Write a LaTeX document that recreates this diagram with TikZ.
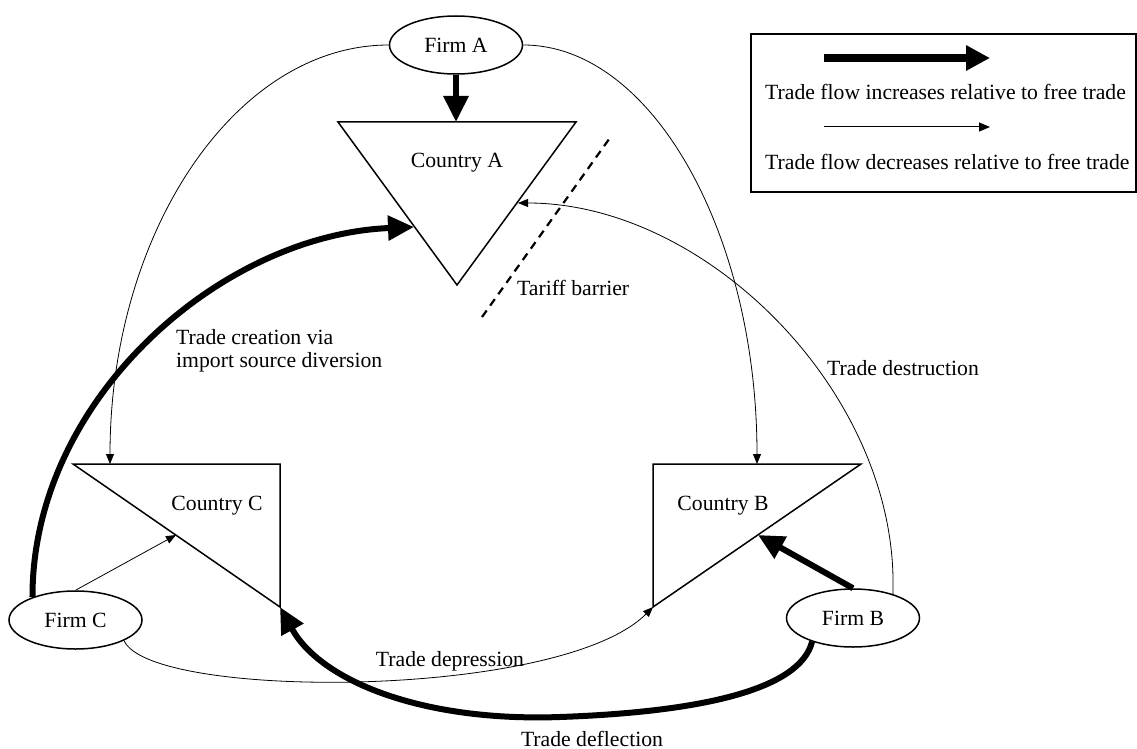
\documentclass[tikz,border=0pt]{standalone}
\usepackage{fontspec}
\setmainfont{Liberation Serif}
\usetikzlibrary{arrows.meta,shapes.geometric}
\begin{document}
\begin{tikzpicture}[x=1pt,y=-1pt,
  every node/.style={font=\fontsize{21.7}{23}\selectfont, inner sep=0pt},
  firm/.style={ellipse, draw, line width=1.5pt, minimum width=133pt, minimum height=58pt, fill=white},
  country/.style={draw, line width=1.5pt, line join=miter},
  thin flow/.style={line width=0.8pt, -{Triangle[length=10pt,width=8pt]}},
  thick flow/.style={line width=6pt, -{Triangle[length=26pt,width=24pt]}},
  barrier/.style={line width=2.2pt, dash pattern=on 8pt off 6pt}
]
\useasboundingbox (0,0) rectangle (1137,749);

% countries (triangles)
\draw[country] (338,122) -- (576,122) -- (457,285) -- cycle;
\draw[country] (73,464) -- (280,464) -- (280,607) -- cycle;
\draw[country] (653,464) -- (861,464) -- (653,607) -- cycle;
\node (cA) at (457,163) {Country A};
\node (cC) at (217,506) {Country C};
\node (cB) at (723,506) {Country B};

% connector end points on the triangles
\coordinate (cAtop) at (456,122);
\coordinate (cAleft) at (414,227);
\coordinate (cAright) at (518,203);
\coordinate (cCtop) at (110,464);
\coordinate (cChyp) at (176,535);
\coordinate (cCbr) at (280,607);
\coordinate (cBtop) at (757,464);
\coordinate (cBhyp) at (758,535);
\coordinate (cBbl) at (653,607);

% firms
\node[firm] (firmA) at (456,45) {Firm A};
\node[firm] (firmC) at (75.5,620) {Firm C};
\node[firm] (firmB) at (853,618) {Firm B};

% tariff barrier
\coordinate (tb1) at (482,317);
\coordinate (tb2) at (612,135);
\draw[barrier] (tb1) -- (tb2);
\node[anchor=west] (tariff) at (517,288) {Tariff barrier};

% thin flows
\draw[thin flow] (firmA.west) .. controls (235,45) and (110,233) .. (cCtop);
\draw[thin flow] (firmA.east) .. controls (652,45) and (757,234) .. (cBtop);
\draw[thin flow] (firmB.31) .. controls (900,397) and (709,203) .. (cAright);
\draw[thin flow] (firmC.north) -- (cChyp);
\draw[thin flow] (firmC.-23) .. controls (150,700) and (560,700) .. (cBbl);

% thick flows
\draw[thick flow] (firmA.south) -- (cAtop);
\draw[thick flow] (firmC.152) .. controls (32,400) and (220,235) .. (cAleft);
\draw[thick flow] (firmB.-150) .. controls (800,690) and (700,712) .. (560,717)
   .. controls (420,722) and (320,680) .. (cCbr);
\draw[thick flow] (firmB.north) -- (cBhyp);

% labels
\node[anchor=west, align=left] (creation) at (176,351) {Trade creation via\\import source diversion};
\node (destruction) at (903,368) {Trade destruction};
\node (depression) at (450,661) {Trade depression};
\node (deflection) at (592,739) {Trade deflection};

% legend
\node[draw, line width=1.6pt, anchor=north west, minimum width=385pt, minimum height=158pt] (legend) at (750,33) {};
\coordinate (lg1a) at (824,58);
\coordinate (lg1b) at (990,58);
\coordinate (lg2a) at (824,127);
\coordinate (lg2b) at (990,127);
\draw[line width=8pt, -{Triangle[length=24pt,width=24pt]}] (lg1a) -- (lg1b);
\draw[line width=1pt, -{Triangle[length=11pt,width=9pt]}] (lg2a) -- (lg2b);
\node[anchor=west] (lginc) at (765,92) {Trade flow increases relative to free trade};
\node[anchor=west] (lgdec) at (765,162) {Trade flow decreases relative to free trade};
\end{tikzpicture}
\end{document}
